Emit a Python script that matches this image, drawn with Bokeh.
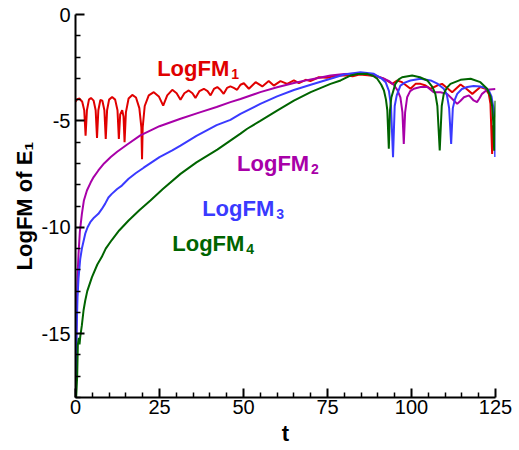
from bokeh.plotting import figure
from bokeh.models import Range1d, FixedTicker
from bokeh.core.properties import value
from bokeh.embed import file_html
from bokeh.resources import INLINE

# ---------------- data ----------------
t1 = [0.0, 0.5, 1.2, 2.0, 2.6, 3.0, 3.4, 4.0, 4.6, 5.4, 6.0, 6.4, 6.8, 7.4, 8.0, 8.6, 9.0, 9.4,
      10.0, 10.9, 11.8, 12.5, 12.9, 13.3, 13.9, 14.3, 14.6, 15.0, 15.8, 16.9, 18.0, 19.0, 19.6,
      19.8, 20.0, 20.6, 21.8, 23.3, 24.8, 26.1, 27.3, 28.8, 30.1, 31.25, 32.4, 33.7, 34.8, 35.7,
      36.9, 38.2, 39.3, 40.2, 41.2, 42.2, 43.2, 44.1, 45.1, 46.1, 47.1, 48.1, 49.1, 50.1, 51.6,
      53.6, 55.6, 57.5, 59.0, 61.0, 63.0, 65.0, 66.5, 68.5, 69.9, 72.4, 74.9, 77.9, 80.9, 82.5,
      84.5, 87.0, 89.5, 91.8, 94.3, 95.7, 97.2, 99.7, 101.2, 102.7, 104.2, 105.7, 107.6, 109.1,
      110.6, 112.1, 114.6, 116.4, 118.1, 120.5, 122.0, 123.0, 123.5, 124.0, 124.3]
logfm1 = [-4.1, -3.98, -3.95, -4.1, -4.5, -5.7, -4.5, -4.0, -3.92, -4.05, -4.5, -5.8, -4.5, -4.02,
          -4.05, -4.5, -5.85, -4.5, -4.0, -3.88, -4.0, -4.5, -5.85, -4.7, -4.5, -4.8, -6.0, -4.6,
          -3.95, -3.78, -3.9, -4.4, -5.3, -6.8, -5.3, -4.3, -3.8, -3.65, -3.85, -4.28, -3.8, -3.54,
          -3.7, -4.01, -3.7, -3.57, -3.7, -3.92, -3.6, -3.49, -3.6, -3.8, -3.5, -3.41, -3.55, -3.73,
          -3.45, -3.38, -3.45, -3.54, -3.3, -3.23, -3.49, -3.18, -3.38, -3.13, -3.34, -3.13, -3.26,
          -3.1, -3.23, -3.07, -3.13, -2.95, -2.97, -2.87, -2.87, -2.9, -2.82, -2.85, -2.9, -3.02,
          -3.26, -3.1, -3.18, -3.49, -3.26, -3.26, -3.34, -3.49, -3.34, -3.26, -3.45, -3.65, -3.29,
          -3.5, -3.73, -3.41, -3.49, -3.73, -4.2, -6.55, -5.2]

t2 = [0.05, 0.2, 0.4, 0.6, 0.9, 1.3, 1.9, 2.5, 3.4, 4.5, 5.4, 6.8, 8.5, 10.5, 12.4, 15.5, 19.3,
      25.0, 31.25, 37.0, 42.0, 46.1, 49.1, 55.0, 60.0, 65.0, 70.0, 75.9, 80.0, 85.8, 89.0, 91.8,
      93.5, 94.7, 95.8, 96.7, 97.3, 97.7, 98.1, 98.7, 99.6, 100.7, 102.7, 104.7, 106.6, 108.6,
      110.6, 112.6, 113.6, 114.6, 115.6, 117.1, 118.5, 119.5, 120.2, 121.0, 122.5, 125.0]
logfm2 = [-17.5, -15.5, -13.6, -12.3, -11.25, -10.2, -9.37, -8.74, -8.27, -7.9, -7.64, -7.33,
          -7.0, -6.7, -6.45, -6.1, -5.68, -5.25, -4.9, -4.6, -4.35, -4.12, -3.97, -3.65, -3.42,
          -3.22, -3.05, -2.87, -2.8, -2.77, -2.85, -3.02, -3.15, -3.3, -3.55, -3.89, -4.6, -6.08,
          -4.6, -3.89, -3.6, -3.49, -3.41, -3.41, -3.65, -3.65, -3.73, -4.04, -4.2, -4.05, -3.89,
          -3.8, -4.04, -4.12, -3.95, -3.73, -3.54, -3.5]

t3 = [0.05, 0.2, 0.4, 0.6, 0.9, 1.4, 1.9, 2.9, 3.6, 4.4, 5.5, 6.8, 7.8, 8.8, 9.8, 10.8, 12.4,
      13.8, 15.8, 18.0, 20.3, 25.0, 28.8, 31.25, 36.0, 42.0, 46.1, 49.1, 55.0, 60.0, 65.0, 70.0,
      75.9, 80.0, 84.8, 88.8, 91.0, 92.3, 93.3, 93.9, 94.5, 95.0, 95.6, 96.7, 98.0, 99.7, 102.7,
      105.7, 107.7, 109.6, 110.5, 111.2, 111.8, 112.3, 112.9, 113.6, 115.0, 116.6, 118.5, 120.5,
      122.0, 123.0, 123.8, 124.4, 124.7, 124.9]
logfm3 = [-17.5, -16.0, -14.5, -13.3, -12.4, -11.5, -11.0, -10.3, -10.0, -9.76, -9.55, -9.37,
          -9.15, -8.9, -8.6, -8.43, -8.2, -8.04, -7.72, -7.45, -7.2, -6.7, -6.39, -6.16, -5.7,
          -5.2, -4.95, -4.67, -4.2, -3.85, -3.55, -3.3, -3.02, -2.82, -2.71, -2.79, -3.0, -3.18,
          -3.6, -4.3, -6.71, -4.3, -3.8, -3.34, -3.2, -3.1, -3.02, -3.1, -3.25, -3.49, -3.75, -4.4,
          -6.08, -4.4, -4.0, -3.73, -3.5, -3.41, -3.36, -3.38, -3.45, -3.57, -3.85, -4.4, -5.3,
          -6.7]

t4 = [0.2, 0.5, 0.7, 1.0, 1.2, 1.4, 1.9, 2.4, 2.9, 3.5, 4.9, 6.5, 7.8, 9.0, 10.8, 13.0, 15.8,
      19.0, 22.3, 26.0, 31.25, 36.0, 42.2, 49.1, 51.1, 55.0, 60.0, 65.0, 70.0, 75.9, 78.9, 81.8,
      84.0, 86.8, 88.5, 89.8, 91.0, 91.8, 92.4, 92.8, 93.25, 93.6, 94.0, 95.2, 96.2, 97.2, 100.2,
      102.5, 104.7, 106.2, 107.1, 107.7, 108.4, 109.0, 109.6, 110.5, 111.6, 114.6, 117.6, 120.5,
      122.5, 123.5, 124.0, 124.3, 124.6, 124.8, 125.0]
logfm4 = [-18.0, -17.0, -15.5, -15.2, -15.5, -15.16, -14.6, -13.9, -13.44, -13.0, -12.34, -11.75,
          -11.4, -11.0, -10.6, -10.15, -9.68, -9.2, -8.74, -8.2, -7.49, -6.95, -6.35, -5.6, -5.37,
          -5.0, -4.52, -4.05, -3.65, -3.26, -3.1, -2.87, -2.8, -2.79, -2.88, -3.02, -3.3, -3.57,
          -4.0, -4.5, -6.31, -4.5, -3.9, -3.26, -3.05, -2.95, -2.87, -2.95, -3.1, -3.4, -3.73, -4.3,
          -6.39, -4.3, -3.73, -3.45, -3.26, -3.07, -3.02, -3.18, -3.49, -3.85, -4.3, -5.0, -6.4,
          -5.0, -4.05]

label_main = ["LogFM", "LogFM", "LogFM", "LogFM"]
label_sub = ["1", "2", "3", "4"]
x_ticks = [0, 25, 50, 75, 100, 125]
x_tick_labels = ["0", "25", "50", "75", "100", "125"]
y_ticks = [0, -5, -10, -15]
y_tick_labels = ["0", "-5", "-10", "-15"]

# ---------------- styling ----------------
colors = ["#e00000", "#a800a8", "#3a3aff", "#006400"]
label_x = [24.3, 48.1, 37.7, 28.8]
label_y = [-2.55, -7.02, -9.13, -10.78]
FONT = "Liberation Sans"

p = figure(width=519, height=450, output_backend="svg", toolbar_location=None,
           x_range=Range1d(0, 125), y_range=Range1d(-18, 0),
           min_border_left=75, min_border_right=24, min_border_top=14, min_border_bottom=53)
p.outline_line_color = None
p.xgrid.visible = False
p.ygrid.visible = False
p.background_fill_color = "white"

for tx, ty, c in zip([t1, t2, t3, t4], [logfm1, logfm2, logfm3, logfm4], colors):
    p.line(tx, ty, line_color=c, line_width=2)

for main, sub, lx, ly, c in zip(label_main, label_sub, label_x, label_y, colors):
    p.text([lx], [ly], text=[main], text_color=c, text_font=value(FONT),
           text_font_size="22px", text_font_style="bold",
           text_align="left", text_baseline="alphabetic")
    p.text([lx], [ly], text=[sub], text_color=c, text_font=value(FONT),
           text_font_size="14px", text_font_style="bold",
           text_align="left", text_baseline="alphabetic", x_offset=74, y_offset=5)

minor_x = [v for v in range(0, 126, 5) if v % 25]
minor_y = [v for v in range(-18, 1) if v % 5]
p.xaxis.ticker = FixedTicker(ticks=x_ticks, minor_ticks=minor_x)
p.yaxis.ticker = FixedTicker(ticks=y_ticks, minor_ticks=minor_y)
p.xaxis.major_label_overrides = dict(zip(x_ticks, x_tick_labels))
p.yaxis.major_label_overrides = dict(zip(y_ticks, y_tick_labels))

for ax in (p.xaxis[0], p.yaxis[0]):
    ax.axis_line_width = 2
    ax.axis_line_color = "black"
    ax.major_tick_in = 9
    ax.major_tick_out = 0
    ax.minor_tick_in = 5
    ax.minor_tick_out = 0
    ax.major_tick_line_width = 2
    ax.minor_tick_line_width = 1.5
    ax.major_tick_line_color = "black"
    ax.minor_tick_line_color = "black"
    ax.major_label_text_font = FONT
    ax.major_label_text_font_size = "20px"
    ax.major_label_text_color = "black"
    ax.axis_label_text_font = FONT
    ax.axis_label_text_font_size = "22px"
    ax.axis_label_text_font_style = "bold"
    ax.axis_label_text_color = "black"

p.xaxis.axis_label = "t"
p.yaxis.axis_label = "LogFM of E\u2081"
p.xaxis.major_label_standoff = 2
p.yaxis.major_label_standoff = 5
p.xaxis.axis_label_standoff = 4
p.yaxis.axis_label_standoff = 2

open("out.html", "w").write(file_html(p, INLINE))
